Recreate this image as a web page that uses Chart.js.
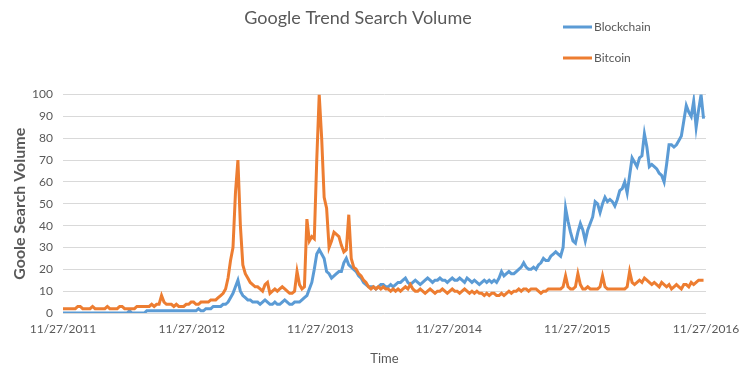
<!DOCTYPE html>
<html>
<head>
<meta charset="utf-8">
<script src="https://cdn.jsdelivr.net/npm/chart.js@4.4.0/dist/chart.umd.min.js"></script>
<style>
  html, body { margin: 0; padding: 0; background: #fff; }
  #wrap { width: 739px; height: 371px; }
</style>
</head>
<body>
<div id="wrap"><canvas id="trendChart" width="739" height="371"></canvas></div>
<script>
// Weekly Google Trends values, first week starts 11/27/2011
const weekStep = 7; // days between samples
const tickDays = [0, 366, 731, 1096, 1461, 1827];
const tickLabels = ['11/27/2011', '11/27/2012', '11/27/2013', '11/27/2014', '11/27/2015', '11/27/2016'];
const seriesNames = ['Blockchain', 'Bitcoin'];
const seriesColors = ['#5b9bd5', '#ed7d31'];

const blockchain = [
  0, 0, 0, 0, 0, 0, 0, 0, 0, 0,
  0, 0, 0, 0, 0, 0, 0, 0, 0, 0,
  0, 0, 0, 0, 0, 0, 0, 1, 0, 0,
  0, 0, 0, 0, 1, 1, 1, 1, 1, 1,
  1, 1, 1, 1, 1, 1, 1, 1, 1, 1,
  1, 1, 1, 1, 1, 2, 1, 1, 2, 2,
  2, 3, 3, 3, 3, 4, 4, 5, 7, 9,
  12, 15, 10, 8, 7, 6, 6, 5, 5, 5,
  4, 5, 6, 5, 4, 4, 5, 4, 4, 5,
  6, 5, 4, 4, 5, 5, 5, 6, 7, 8,
  11, 14, 20, 27, 29, 27, 25, 19, 18, 16,
  17, 18, 19, 19, 23, 25, 22, 21, 20, 19,
  17, 16, 14, 13, 12, 12, 12, 11, 12, 13,
  13, 12, 12, 13, 12, 13, 14, 14, 15, 16,
  14, 13, 14, 15, 14, 13, 14, 15, 16, 15,
  14, 15, 15, 16, 15, 15, 14, 15, 16, 15,
  15, 16, 15, 14, 16, 15, 14, 15, 14, 13,
  14, 15, 14, 15, 14, 15, 14, 16, 19, 17,
  18, 19, 18, 18, 19, 20, 21, 23, 21, 20,
  20, 21, 20, 22, 23, 25, 24, 24, 26, 27,
  28, 27, 26, 30, 48, 42, 37, 33, 32, 37,
  41, 38, 33, 38, 41, 44, 51, 50, 46, 50,
  53, 51, 52, 51, 49, 52, 56, 57, 60, 55,
  63, 71, 69, 67, 71, 72, 82, 76, 67, 68,
  67, 66, 64, 63, 60, 68, 77, 77, 76, 77,
  79, 81, 88, 95, 92, 90, 97, 85, 93, 100, 89
];

const bitcoin = [
  2, 2, 2, 2, 2, 2, 3, 3, 2, 2,
  2, 2, 3, 2, 2, 2, 2, 2, 3, 2,
  2, 2, 2, 3, 3, 2, 2, 2, 2, 2,
  3, 3, 3, 3, 3, 3, 4, 3, 4, 4,
  8, 5, 4, 4, 4, 3, 4, 3, 3, 3,
  4, 4, 5, 5, 4, 4, 5, 5, 5, 5,
  6, 6, 6, 7, 8, 9, 11, 16, 24, 30,
  55, 70, 40, 22, 18, 16, 14, 13, 12, 12,
  11, 10, 13, 14, 9, 10, 11, 10, 11, 12,
  11, 10, 9, 9, 10, 19, 13, 11, 12, 43,
  33, 35, 34, 70, 100, 80, 53, 48, 30, 33,
  37, 36, 35, 31, 28, 29, 45, 25, 21, 20,
  18, 17, 15, 14, 12, 11, 12, 11, 12, 11,
  12, 11, 11, 10, 11, 10, 11, 10, 11, 12,
  11, 13, 11, 10, 10, 11, 10, 9, 10, 11,
  10, 9, 10, 10, 11, 10, 9, 10, 11, 10,
  10, 9, 10, 11, 10, 9, 10, 9, 10, 9,
  9, 8, 9, 8, 9, 9, 8, 8, 9, 8,
  9, 10, 9, 10, 10, 11, 10, 11, 11, 10,
  11, 11, 11, 10, 9, 10, 10, 11, 11, 11,
  11, 11, 11, 12, 17, 12, 11, 11, 12, 18,
  13, 11, 11, 12, 11, 11, 11, 11, 12, 17,
  12, 11, 11, 11, 11, 11, 11, 11, 11, 12,
  19, 14, 13, 14, 15, 14, 16, 15, 14, 13,
  14, 13, 12, 14, 13, 12, 13, 11, 12, 13,
  12, 11, 13, 13, 12, 14, 13, 14, 15, 15, 15
];

const FONT = 'Lato, "Open Sans", sans-serif';
const TEXT_GREY = '#595959';

function toPoints(values) {
  return values.map((v, i) => ({ x: i * weekStep, y: v }));
}

// legend sits to the right of the title, stacked
const sideLegend = {
  id: 'sideLegend',
  afterDraw(chart) {
    const ctx = chart.ctx;
    ctx.save();
    ctx.font = '12px ' + FONT;
    ctx.textBaseline = 'middle';
    seriesNames.forEach((name, i) => {
      const y = 27 + i * 31;
      ctx.strokeStyle = seriesColors[i];
      ctx.lineWidth = 3;
      ctx.beginPath();
      ctx.moveTo(563, y);
      ctx.lineTo(592, y);
      ctx.stroke();
      ctx.fillStyle = TEXT_GREY;
      ctx.fillText(name, 594, y);
    });
    ctx.restore();
  }
};

new Chart(document.getElementById('trendChart'), {
  type: 'line',
  data: {
    datasets: [
      {
        label: seriesNames[0],
        data: toPoints(blockchain),
        borderColor: seriesColors[0],
        backgroundColor: seriesColors[0],
        borderWidth: 3,
        pointRadius: 0,
        tension: 0,
        order: 1
      },
      {
        label: seriesNames[1],
        data: toPoints(bitcoin),
        borderColor: seriesColors[1],
        backgroundColor: seriesColors[1],
        borderWidth: 3,
        pointRadius: 0,
        tension: 0,
        order: 0
      }
    ]
  },
  options: {
    responsive: false,
    animation: false,
    devicePixelRatio: 1,
    layout: { padding: { left: 10, right: 33, top: 0, bottom: 4 } },
    plugins: {
      legend: { display: false },
      tooltip: { enabled: false },
      title: {
        display: true,
        text: 'Google Trend Search Volume',
        color: TEXT_GREY,
        font: { family: FONT, size: 18, weight: 'normal' },
        padding: { top: 7, bottom: 66 }
      }
    },
    scales: {
      x: {
        type: 'linear',
        min: 0,
        max: tickDays[tickDays.length - 1],
        afterBuildTicks: scale => {
          scale.ticks = tickDays.map(v => ({ value: v }));
        },
        afterFit: scale => {
          // end labels may hang past the plot, like Excel's
          scale.paddingLeft = 0;
          scale.paddingRight = 0;
        },
        ticks: {
          autoSkip: false,
          maxRotation: 0,
          color: TEXT_GREY,
          font: { family: FONT, size: 12 },
          padding: 9,
          callback: (value, index) => tickLabels[index]
        },
        grid: { display: false, drawTicks: false },
        border: { display: false },
        title: {
          display: true,
          text: 'Time',
          color: TEXT_GREY,
          font: { family: FONT, size: 13 },
          padding: { top: 6, bottom: 0 }
        }
      },
      y: {
        min: 0,
        max: 100,
        ticks: {
          stepSize: 10,
          color: TEXT_GREY,
          font: { family: FONT, size: 12 },
          padding: 10
        },
        grid: { color: '#d9d9d9', lineWidth: 1, drawTicks: false },
        border: { display: false },
        title: {
          display: true,
          text: 'Goole Search Volume',
          color: TEXT_GREY,
          font: { family: FONT, size: 16, weight: 'bold' },
          padding: { top: 0, bottom: 0 }
        },
        afterFit: scale => { scale.width = 53; }
      }
    }
  },
  plugins: [sideLegend]
});
</script>
</body>
</html>
